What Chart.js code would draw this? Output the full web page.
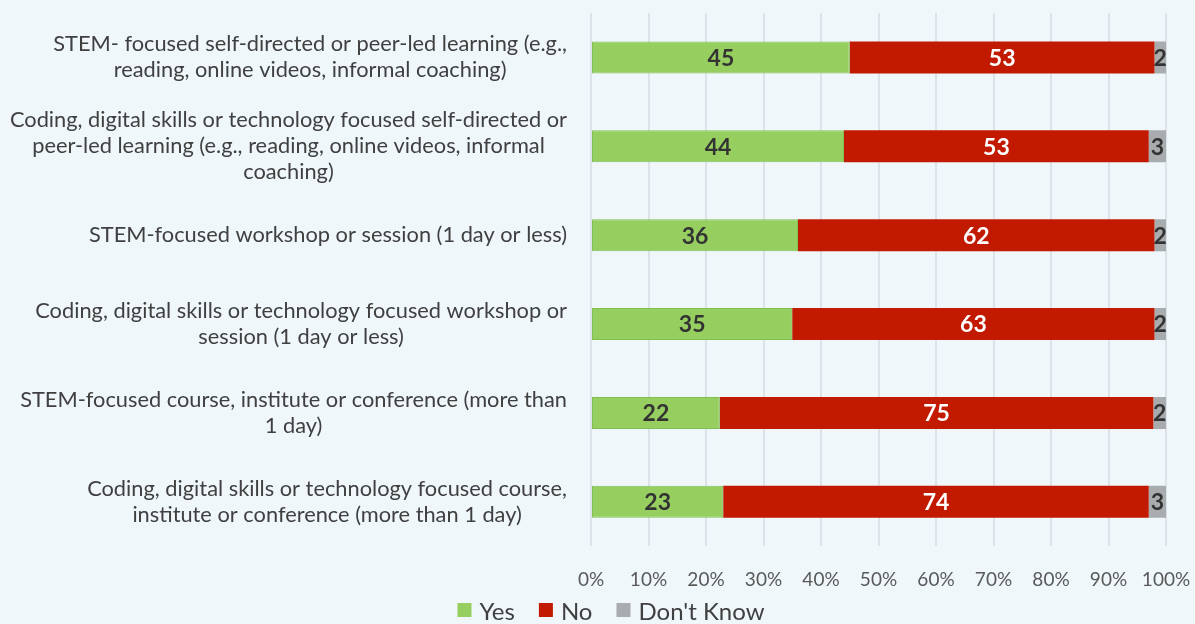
<!DOCTYPE html>
<html>
<head>
<meta charset="utf-8">
<script src="https://cdn.jsdelivr.net/npm/chart.js@4/dist/chart.umd.min.js"></script>
<style>
  html, body { margin: 0; padding: 0; background: #eff7fb; }
  #wrap { width: 1195px; height: 624px; }
</style>
</head>
<body>
<div id="wrap"><canvas id="chart" width="1195" height="624"></canvas></div>
<script>
// Category labels (one entry per bar, split into lines as in the picture)
const categories = [
  ["STEM- focused self-directed or peer-led learning (e.g.,", "reading, online videos, informal coaching)"],
  ["Coding, digital skills or technology focused self-directed or", "peer-led learning (e.g., reading, online videos, informal", "coaching)"],
  ["STEM-focused workshop or session (1 day or less)"],
  ["Coding, digital skills or technology focused workshop or", "session (1 day or less)"],
  ["STEM-focused course, institute or conference (more than", "1 day)"],
  ["Coding, digital skills or technology focused course,", "institute or conference (more than 1 day)"]
];

const seriesNames = ["Yes", "No", "Don't Know"];
// percentages (labels show them rounded)
const yesValues = [45, 44, 36, 35, 22.4, 23];
const noValues = [53, 53, 62, 63, 75.4, 74];
const dontKnowValues = [2, 3, 2, 2, 2.2, 3];
const xTicks = [0, 10, 20, 30, 40, 50, 60, 70, 80, 90, 100];

const FONT = "Lato, 'Open Sans', sans-serif";

// Draw the category labels: blocks right aligned, lines centered inside each block
const categoryLabels = {
  id: "categoryLabels",
  afterDraw(chart) {
    const ctx = chart.ctx;
    const yScale = chart.scales.y;
    const right = chart.chartArea.left - 24;
    const lineH = 26;
    ctx.save();
    ctx.font = "21.8px " + FONT;
    ctx.fillStyle = "#404040";
    ctx.textAlign = "center";
    ctx.textBaseline = "middle";
    categories.forEach((lines, i) => {
      const y = yScale.getPixelForValue(i);
      const maxW = Math.max(...lines.map(l => ctx.measureText(l).width));
      const cx = right - maxW / 2;
      const top = y - (lines.length - 1) * lineH / 2;
      lines.forEach((l, k) => ctx.fillText(l, cx, top + k * lineH));
    });
    ctx.restore();
  }
};

// Value labels centered in each segment
const valueLabels = {
  id: "valueLabels",
  afterDatasetsDraw(chart) {
    const ctx = chart.ctx;
    ctx.save();
    ctx.font = "bold 23px " + FONT;
    ctx.textAlign = "center";
    ctx.textBaseline = "middle";
    chart.data.datasets.forEach((ds, di) => {
      const meta = chart.getDatasetMeta(di);
      meta.data.forEach((bar, i) => {
        const cx = (bar.x + bar.base) / 2;
        ctx.fillStyle = di === 1 ? "#ffffff" : "#333333";
        ctx.fillText(String(Math.round(ds.data[i])), cx, bar.y + 1);
      });
    });
    ctx.restore();
  }
};

// Legend row under the axis (square swatch + name, items spaced like the original)
const bottomLegend = {
  id: "bottomLegend",
  afterDraw(chart) {
    const ctx = chart.ctx;
    const box = 14, gapText = 8, gapItem = 24;
    const y = 611;
    ctx.save();
    ctx.font = "24px " + FONT;
    ctx.textBaseline = "middle";
    ctx.textAlign = "left";
    const items = chart.data.datasets.map(ds => ({
      text: ds.label,
      color: ds.backgroundColor,
      w: box + gapText + ctx.measureText(ds.label).width
    }));
    const total = items.reduce((s, it) => s + it.w, 0) + gapItem * (items.length - 1);
    let x = 611 - total / 2;
    items.forEach(it => {
      ctx.fillStyle = it.color;
      ctx.fillRect(x, y - box / 2 - 1, box, box);
      ctx.fillStyle = "#404040";
      ctx.fillText(it.text, x + box + gapText, y + 1);
      x += it.w + gapItem;
    });
    ctx.restore();
  }
};

const ctx = document.getElementById("chart").getContext("2d");
new Chart(ctx, {
  type: "bar",
  data: {
    labels: categories.map(l => l.join(" ")),
    datasets: [
      {
        label: seriesNames[0],
        data: yesValues,
        backgroundColor: "#96cf60",
        borderColor: "#7fbf55",
        borderWidth: 1,
        borderSkipped: false
      },
      {
        label: seriesNames[1],
        data: noValues,
        backgroundColor: "#c11a01",
        borderWidth: 0
      },
      {
        label: seriesNames[2],
        data: dontKnowValues,
        backgroundColor: "#a9acae",
        borderWidth: 0
      }
    ]
  },
  options: {
    indexAxis: "y",
    responsive: false,
    animation: false,
    layout: {
      padding: { left: 0, right: 0, top: 13, bottom: 11 }
    },
    datasets: {
      bar: { barPercentage: 0.72, categoryPercentage: 0.5 }
    },
    scales: {
      x: {
        stacked: true,
        min: 0,
        max: 100,
        afterBuildTicks(scale) {
          scale.ticks = xTicks.map(v => ({ value: v }));
        },
        afterFit(scale) {
          scale.paddingLeft = 0;
          scale.paddingRight = 29;
        },
        ticks: {
          callback: v => v + "%",
          font: { family: FONT, size: 19 },
          color: "#595959",
          padding: 22
        },
        grid: { color: "#dbe3e9", lineWidth: 2, drawTicks: false },
        border: { display: false }
      },
      y: {
        stacked: true,
        afterFit(scale) { scale.width = 591; },
        ticks: { display: false },
        grid: { display: false },
        border: { display: false }
      }
    },
    plugins: {
      legend: { display: false },
      tooltip: { enabled: false }
    }
  },
  plugins: [categoryLabels, valueLabels, bottomLegend]
});
</script>
</body>
</html>
